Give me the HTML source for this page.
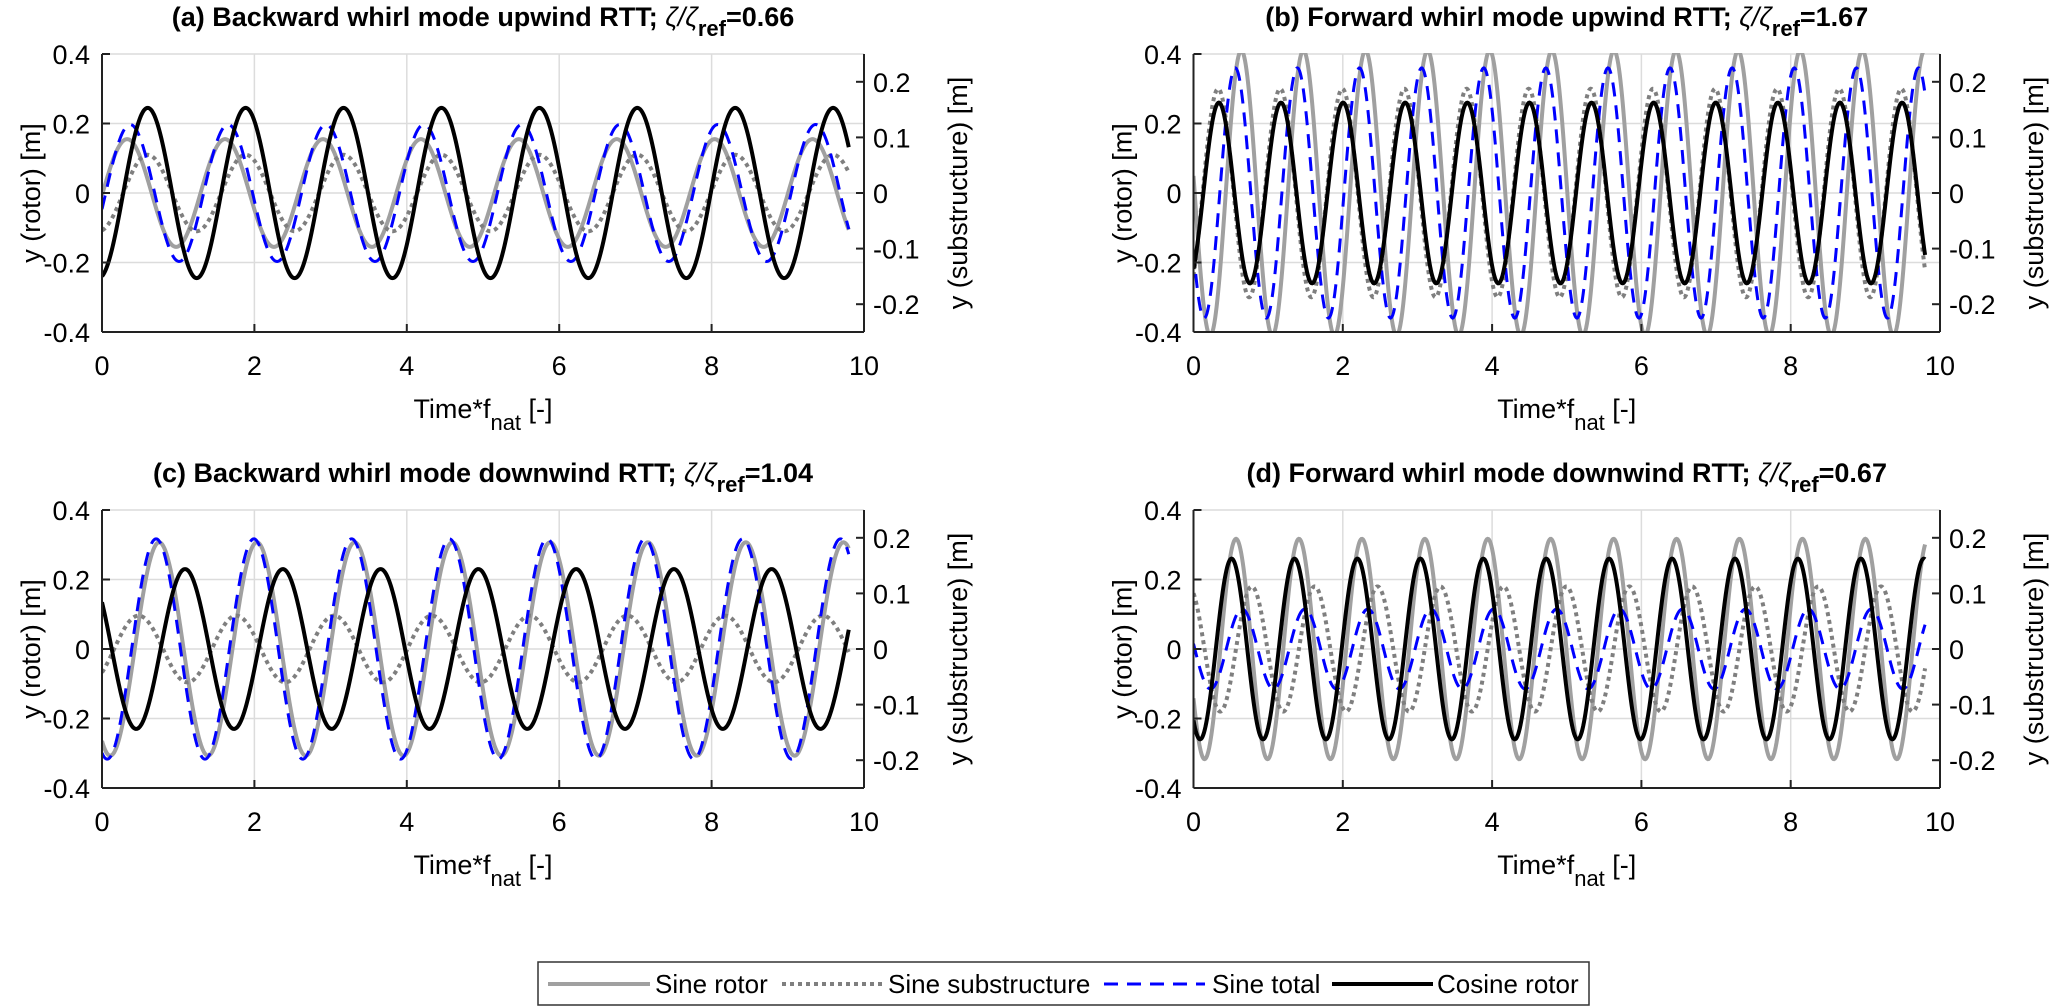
<!DOCTYPE html>
<html><head><meta charset="utf-8">
<style>
html,body{margin:0;padding:0;background:#fff;}
svg{display:block;font-family:"Liberation Sans",Arial,sans-serif;}
</style></head>
<body>
<svg id="fig" width="2067" height="1006" viewBox="0 0 2067 1006" xmlns="http://www.w3.org/2000/svg">
  <g id="panels"></g>
  <g>
    <rect x="538" y="962" width="1051" height="43" fill="#fff" stroke="#333" stroke-width="1.5"/>
    <g>
      <line x1="548" y1="984" x2="650" y2="984" stroke="#a0a0a0" stroke-width="4"/>
      <text x="655" y="993" font-size="26">Sine rotor</text>
    </g>
    <g>
      <line x1="782" y1="984" x2="882" y2="984" stroke="#7f7f7f" stroke-width="4" stroke-dasharray="4 4"/>
      <text x="888" y="993" font-size="26">Sine substructure</text>
    </g>
    <g>
      <line x1="1104" y1="984" x2="1205" y2="984" stroke="#0000ff" stroke-width="3" stroke-dasharray="14 9"/>
      <text x="1212" y="993" font-size="26">Sine total</text>
    </g>
    <g>
      <line x1="1332" y1="984" x2="1433" y2="984" stroke="#000" stroke-width="4"/>
      <text x="1437" y="993" font-size="26">Cosine rotor</text>
    </g>
  </g>
</svg>
<script>
// ---- data (left-axis units, metres) ----
const panelIds = ['a', 'b', 'c', 'd'];
const panelTitles = ['(a) Backward whirl mode upwind RTT; ', '(b) Forward whirl mode upwind RTT; ', '(c) Backward whirl mode downwind RTT; ', '(d) Forward whirl mode downwind RTT; '];
const dampingRatios = ['0.66', '1.67', '1.04', '0.67'];
const periods = [1.285, 0.832, 1.283, 0.843];
const sineRotorAmp = [0.155, 0.41, 0.307, 0.317];
const sineRotorPeak = [0.33, 0.64, 0.75, 0.57];
const sineSubAmp = [0.11, 0.30, 0.096, 0.18];
const sineSubPeak = [0.60, 0.33, 0.48, 0.78];
const sineTotalAmp = [0.197, 0.36, 0.317, 0.115];
const sineTotalPeak = [0.37, 0.56, 0.71, 0.65];
const cosRotorAmp = [0.245, 0.26, 0.23, 0.26];
const cosRotorPeak = [0.60, 0.34, 1.09, 0.51];
const tEnd = 9.8;
const xTicks = [0, 2, 4, 6, 8, 10];
const yTicksLeft = [-0.4, -0.2, 0, 0.2, 0.4];
const yTickLabelsLeft = ['-0.4', '-0.2', '0', '0.2', '0.4'];
const yTicksRight = [-0.2, -0.1, 0, 0.1, 0.2];
const yTickLabelsRight = ['-0.2', '-0.1', '0', '0.1', '0.2'];

// ---- layout ----
const NS = 'http://www.w3.org/2000/svg';
const boxes = [
  {l: 102, r: 864, t: 54, b: 332},
  {l: 1193.5, r: 1940, t: 54, b: 332},
  {l: 102, r: 864, t: 510, b: 788},
  {l: 1193.5, r: 1940, t: 510, b: 788}
];
const styles = [
  {name: 'sine-rotor', color: '#a0a0a0', w: 4, dash: ''},
  {name: 'sine-substructure', color: '#7f7f7f', w: 4, dash: '4 4'},
  {name: 'sine-total', color: '#0000ff', w: 3, dash: '14 9'},
  {name: 'cosine-rotor', color: '#000000', w: 4, dash: ''}
];
function mk(tag, attrs, parent) {
  const e = document.createElementNS(NS, tag);
  for (const k in attrs) e.setAttribute(k, attrs[k]);
  if (parent) parent.appendChild(e);
  return e;
}
const root = document.getElementById('panels');
panelIds.forEach((pid, i) => {
  const B = boxes[i];
  const xs = v => B.l + (v - 0) / 10 * (B.r - B.l);
  const ysL = v => B.t + (0.4 - v) / 0.8 * (B.b - B.t);
  const ysR = v => B.t + (0.25 - v) / 0.5 * (B.b - B.t);
  const g = mk('g', {}, root);
  
  
  const grid = mk('g', {stroke: '#dcdcdc', 'stroke-width': 1.5}, g);
  
  
  xTicks.forEach(v => mk('line', {x1: xs(v), x2: xs(v), y1: B.t, y2: B.b}, grid));
  yTicksLeft.forEach(v => mk('line', {x1: B.l, x2: B.r, y1: ysL(v), y2: ysL(v)}, grid));
  const clipId = 'clip' + pid;
  const cp = mk('clipPath', {id: clipId}, g);
  mk('rect', {x: B.l, y: B.t - 1, width: B.r - B.l, height: B.b - B.t + 2}, cp);
  const amps = [sineRotorAmp[i], sineSubAmp[i], sineTotalAmp[i], cosRotorAmp[i]];
  const peaks = [sineRotorPeak[i], sineSubPeak[i], sineTotalPeak[i], cosRotorPeak[i]];
  styles.forEach((s, k) => {
    let d = '';
    for (let n = 0; n <= 980; n++) {
      const t = n / 980 * tEnd;
      const v = amps[k] * Math.cos(2 * Math.PI * (t - peaks[k]) / periods[i]);
      d += (n ? 'L' : 'M') + xs(t).toFixed(2) + ' ' + ysL(v).toFixed(2);
    }
    const p = mk('path', {d: d, fill: 'none', stroke: s.color, 'stroke-width': s.w, 'clip-path': 'url(#' + clipId + ')'}, g);
    if (s.dash) p.setAttribute('stroke-dasharray', s.dash);
    
    
  });
  const ax = mk('g', {stroke: '#222', 'stroke-width': 2, fill: 'none'}, g);
  
  
  mk('line', {x1: B.l, x2: B.l, y1: B.t, y2: B.b}, ax);
  mk('line', {x1: B.r, x2: B.r, y1: B.t, y2: B.b}, ax);
  mk('line', {x1: B.l, x2: B.r, y1: B.b, y2: B.b}, ax);
  xTicks.forEach(v => mk('line', {x1: xs(v), x2: xs(v), y1: B.b, y2: B.b - 8}, ax));
  yTicksLeft.forEach(v => mk('line', {x1: B.l, x2: B.l + 8, y1: ysL(v), y2: ysL(v)}, ax));
  yTicksRight.forEach(v => mk('line', {x1: B.r, x2: B.r - 8, y1: ysR(v), y2: ysR(v)}, ax));
  xTicks.forEach(v => {
    const t = mk('text', {x: xs(v), y: B.b + 43, 'font-size': 27, 'text-anchor': 'middle'}, g);
    t.textContent = String(v);
    
    
  });
  yTicksLeft.forEach((v, k) => {
    const t = mk('text', {x: B.l - 12, y: ysL(v) + 10, 'font-size': 27, 'text-anchor': 'end'}, g);
    t.textContent = yTickLabelsLeft[k];
    
    
  });
  yTicksRight.forEach((v, k) => {
    const t = mk('text', {x: B.r + 9, y: ysR(v) + 10, 'font-size': 27}, g);
    t.textContent = yTickLabelsRight[k];
    
    
  });
  const cx = (B.l + B.r) / 2, cy = (B.t + B.b) / 2;
  const xl = mk('text', {x: cx, y: B.b + 86, 'font-size': 27, 'text-anchor': 'middle'}, g);
  xl.innerHTML = 'Time*f<tspan dy="12" font-size="22">nat</tspan><tspan dy="-12"> [-]</tspan>';
  
  
  const yl = mk('text', {x: 0, y: 0, 'font-size': 27, 'text-anchor': 'middle', transform: 'translate(' + (B.l - 62) + ',' + cy + ') rotate(-90)'}, g);
  yl.textContent = 'y (rotor) [m]';
  
  
  const yr = mk('text', {x: 0, y: 0, 'font-size': 27, 'text-anchor': 'middle', transform: 'translate(' + (B.r + 103) + ',' + cy + ') rotate(-90)'}, g);
  yr.textContent = 'y (substructure) [m]';
  
  
  const tt = mk('text', {x: cx, y: B.t - 28, 'font-size': 27, 'font-weight': 'bold', 'text-anchor': 'middle'}, g);
  tt.innerHTML = panelTitles[i] + '<tspan font-style="italic" font-weight="normal">\u03B6/\u03B6</tspan><tspan dy="10" font-size="22">ref</tspan><tspan dy="-10">=' + dampingRatios[i] + '</tspan>';
  
  
});
</script>
</body></html>
